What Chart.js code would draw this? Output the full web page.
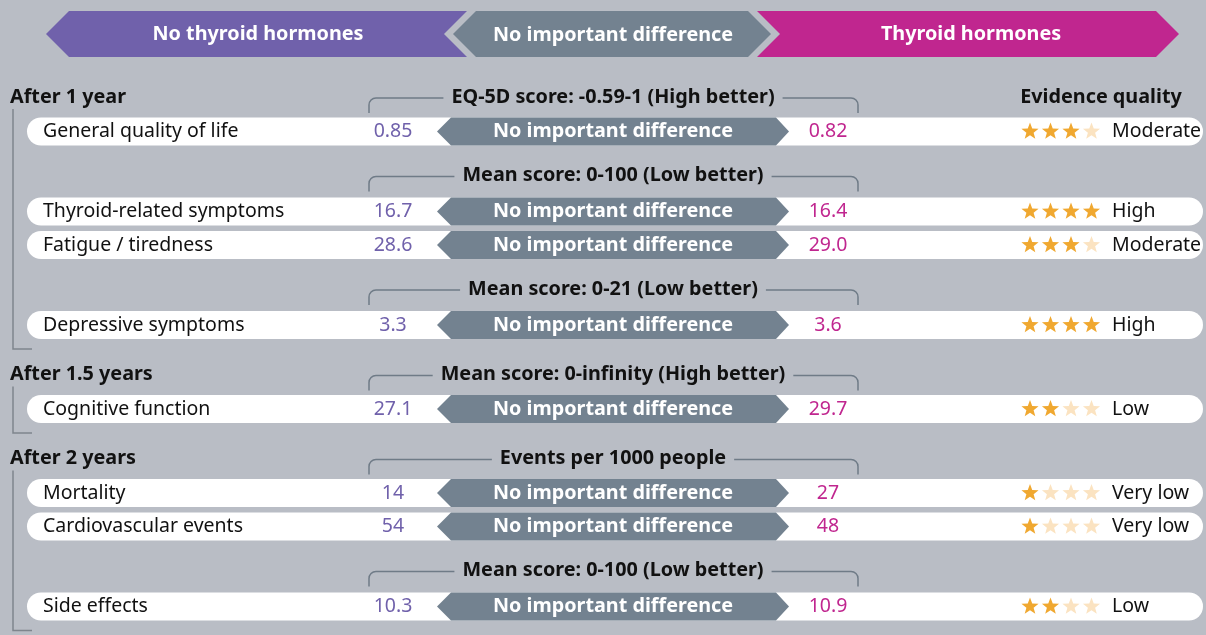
<!DOCTYPE html>
<html>
<head>
<meta charset="utf-8">
<script src="https://cdn.jsdelivr.net/npm/chart.js@4.4.0/dist/chart.umd.min.js"></script>
<style>
  html, body { margin: 0; padding: 0; background: #b9bdc5; }
  canvas { display: block; }
</style>
</head>
<body>
<canvas id="chart" width="1206" height="635"></canvas>
<script>
// --- data ---
const headerLabels = ['No thyroid hormones', 'No important difference', 'Thyroid hormones'];
const groups = ['After 1 year', 'After 1.5 years', 'After 2 years'];
const scaleNames = [
  'EQ-5D score: -0.59-1 (High better)',
  'Mean score: 0-100 (Low better)',
  'Mean score: 0-21 (Low better)',
  'Mean score: 0-infinity (High better)',
  'Events per 1000 people',
  'Mean score: 0-100 (Low better)'
];
const outcomes = ['General quality of life', 'Thyroid-related symptoms', 'Fatigue / tiredness', 'Depressive symptoms',
  'Cognitive function', 'Mortality', 'Cardiovascular events', 'Side effects'];
const outcomeGroup = [0, 0, 0, 0, 1, 2, 2, 2];
const outcomeScale = [0, 1, 1, 2, 3, 4, 4, 5];
const noHormones = [0.85, 16.7, 28.6, 3.3, 27.1, 14, 54, 10.3];
const withHormones = [0.82, 16.4, 29.0, 3.6, 29.7, 27, 48, 10.9];
const decimals = [2, 1, 1, 1, 1, 0, 0, 1];
const effect = outcomes.map(() => 'No important difference');
const stars = [3, 4, 3, 4, 2, 1, 1, 2];
const quality = ['Moderate', 'High', 'Moderate', 'High', 'Low', 'Very low', 'Very low', 'Low'];

// --- layout (in y-scale units) ---
const W = 1206, H = 635;
const headerY = 34;
const rowY = [], heads = [];
let y = 97;
outcomes.forEach((name, i) => {
  const newGroup = i === 0 || outcomeGroup[i] !== outcomeGroup[i - 1];
  const newScale = i === 0 || outcomeScale[i] !== outcomeScale[i - 1];
  if (i > 0) y += newGroup ? 49.5 : (newScale ? 44 : 33.5);
  if (newGroup || newScale) {
    heads.push({ y, group: newGroup ? outcomeGroup[i] : -1, scale: outcomeScale[i] });
    y += newGroup ? 34.5 : 36;
  }
  rowY.push(y);
});

const COL = { label: 43, left: 393, mid: 613, right: 828, stars: 1030, quality: 1112, pillL: 27, pillR: 1203 };
const C = {
  purple: '#7061ab', magenta: '#c0268f', grey: '#738290', bg: '#b9bdc5',
  line: '#6f7b87', bracket: '#7f858d', star: '#f0a830', starOff: '#fbe3c1', text: '#111111'
};
const FONT = '"Noto Sans", sans-serif';
const BOLD = 'bold 19.8px ' + FONT;
const REG = '19.5px ' + FONT;

function starPath(ctx, cx, cy, ro, ri) {
  ctx.beginPath();
  for (let k = 0; k < 10; k++) {
    const r = k % 2 ? ri : ro;
    const a = -Math.PI / 2 + k * Math.PI / 5;
    ctx.lineTo(cx + r * Math.cos(a), cy + r * Math.sin(a));
  }
  ctx.closePath();
}

function poly(ctx, pts, fill) {
  ctx.beginPath();
  pts.forEach(([px, py], k) => k ? ctx.lineTo(px, py) : ctx.moveTo(px, py));
  ctx.closePath();
  ctx.fillStyle = fill;
  ctx.fill();
}

const infographic = {
  id: 'infographic',
  beforeDatasetsDraw(chart) {
    const ctx = chart.ctx;
    const xs = chart.scales.x, ys = chart.scales.y;
    const X = v => xs.getPixelForValue(v);
    const Y = v => ys.getPixelForValue(v);
    ctx.save();
    ctx.textBaseline = 'middle';

    // top header arrows
    const t = Y(headerY - 23), b = Y(headerY + 23), m = Y(headerY);
    poly(ctx, [[X(46), m], [X(69), t], [X(613), t], [X(613), b], [X(69), b]], C.purple);
    poly(ctx, [[X(613), t], [X(1156), t], [X(1179), m], [X(1156), b], [X(613), b]], C.magenta);
    poly(ctx, [[X(444), m], [X(467), t], [X(757), t], [X(780), m], [X(757), b], [X(467), b]], C.bg);
    poly(ctx, [[X(453), m], [X(476), t], [X(748), t], [X(771), m], [X(748), b], [X(476), b]], C.grey);
    ctx.fillStyle = '#ffffff';
    ctx.font = BOLD;
    ctx.textAlign = 'center';
    ctx.fillText(headerLabels[0], X(258), m);
    ctx.fillText(headerLabels[1], X(613), m + 1);
    ctx.fillText(headerLabels[2], X(971), m);

    // evidence quality title
    ctx.fillStyle = C.text;
    ctx.fillText('Evidence quality', X(1101), Y(heads[0].y));

    // group brackets
    groups.forEach((g, gi) => {
      const h = heads.find(d => d.group === gi);
      const last = rowY[outcomeGroup.lastIndexOf(gi)];
      ctx.fillStyle = C.text;
      ctx.textAlign = 'left';
      ctx.fillText(g, X(10), Y(h.y));
      ctx.strokeStyle = C.bracket;
      ctx.lineWidth = 1.5;
      ctx.beginPath();
      ctx.moveTo(X(13), Y(h.y + 12));
      ctx.lineTo(X(13), Y(last + 24));
      ctx.lineTo(X(32), Y(last + 24));
      ctx.stroke();
    });

    // scale headers with brackets
    heads.forEach(h => {
      const ty = Y(h.y);
      const txt = scaleNames[h.scale];
      ctx.textAlign = 'center';
      ctx.fillStyle = C.text;
      ctx.fillText(txt, X(COL.mid), ty);
      const half = ctx.measureText(txt).width / 2 + 8;
      const ly = Y(h.y + 1), by = Y(h.y + 16), r = 7;
      ctx.strokeStyle = C.line;
      ctx.lineWidth = 1.5;
      ctx.beginPath();
      ctx.moveTo(X(369), by);
      ctx.arcTo(X(369), ly, X(369) + r, ly, r);
      ctx.lineTo(X(COL.mid) - half, ly);
      ctx.moveTo(X(COL.mid) + half, ly);
      ctx.arcTo(X(858), ly, X(858), by, r);
      ctx.lineTo(X(858), by);
      ctx.stroke();
    });

    // rows
    const rows = chart.getDatasetMeta(0).data;
    const rights = chart.getDatasetMeta(1).data;
    outcomes.forEach((name, i) => {
      const cy = rows[i].y;
      const top = cy - 14, bot = cy + 14;
      ctx.fillStyle = '#ffffff';
      ctx.beginPath();
      ctx.roundRect(X(COL.pillL), top, X(COL.pillR) - X(COL.pillL), 28, 14);
      ctx.fill();
      poly(ctx, [[X(437), cy], [X(451), top], [X(776), top], [X(789), cy], [X(776), bot], [X(451), bot]], C.grey);

      ctx.font = REG;
      ctx.textAlign = 'left';
      ctx.fillStyle = C.text;
      ctx.fillText(name, X(COL.label), cy);
      ctx.fillText(quality[i], X(COL.quality), cy);

      ctx.textAlign = 'center';
      ctx.fillStyle = C.purple;
      ctx.fillText(noHormones[i].toFixed(decimals[i]), rows[i].x, cy);
      ctx.fillStyle = C.magenta;
      ctx.fillText(withHormones[i].toFixed(decimals[i]), rights[i].x, cy);

      ctx.font = BOLD;
      ctx.fillStyle = '#ffffff';
      ctx.fillText(effect[i], X(COL.mid), cy);

      for (let s = 0; s < 4; s++) {
        starPath(ctx, X(COL.stars + s * 20.5), cy, 9, 3.8);
        ctx.fillStyle = s < stars[i] ? C.star : C.starOff;
        ctx.fill();
      }
    });
    ctx.restore();
  }
};

new Chart(document.getElementById('chart'), {
  type: 'scatter',
  data: {
    datasets: [
      { label: headerLabels[0], data: rowY.map(v => ({ x: COL.left, y: v })), pointRadius: 0 },
      { label: headerLabels[2], data: rowY.map(v => ({ x: COL.right, y: v })), pointRadius: 0 }
    ]
  },
  options: {
    responsive: false,
    animation: false,
    layout: { padding: 0 },
    plugins: { legend: { display: false }, tooltip: { enabled: false } },
    scales: {
      x: { type: 'linear', min: 0, max: W, display: false },
      y: { type: 'linear', min: 0, max: H, reverse: true, display: false }
    }
  },
  plugins: [infographic]
});
</script>
</body>
</html>
